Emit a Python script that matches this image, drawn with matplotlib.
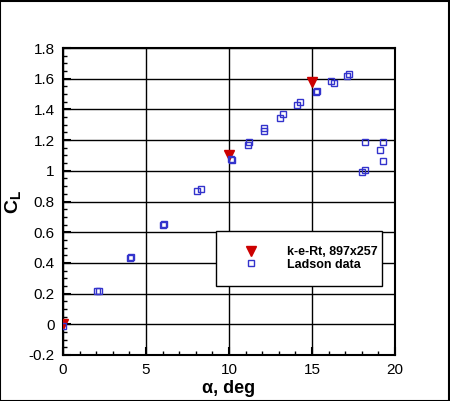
import matplotlib
matplotlib.use('Agg')
import matplotlib.pyplot as plt
from matplotlib.patches import Rectangle
from matplotlib.ticker import MultipleLocator

plt.rcParams['font.family'] = ['Liberation Sans', 'DejaVu Sans']
plt.rcParams['mathtext.fontset'] = 'custom'
plt.rcParams['mathtext.rm'] = 'Liberation Sans'
plt.rcParams['mathtext.bf'] = 'Liberation Sans:bold'
plt.rcParams['mathtext.it'] = 'Liberation Sans:italic'

# Ladson experimental data
ladson_alpha = [0.02, 2.06, 2.18, 4.05, 4.10, 6.04, 6.08, 8.08, 8.32,
                10.12, 10.18, 11.17, 11.23, 12.11, 12.11, 13.10, 13.28,
                14.12, 14.28, 15.26, 15.30, 16.12, 16.30, 17.13, 17.23,
                18.03, 18.19, 18.19, 19.09, 19.27, 19.27]
ladson_cl = [-0.01, 0.214, 0.214, 0.43, 0.44, 0.65, 0.655, 0.871, 0.884,
             1.08, 1.07, 1.17, 1.185, 1.26, 1.28, 1.343, 1.371,
             1.43, 1.45, 1.512, 1.522, 1.583, 1.57, 1.62, 1.63,
             0.992, 1.005, 1.187, 1.137, 1.187, 1.066]

# k-e-Rt computation, 897x257 grid
kert_alpha = [0.0, 10.0, 15.0]
kert_cl = [0.0, 1.105, 1.577]

x_ticks = [0, 5, 10, 15, 20]
y_ticks = [-0.2, 0, 0.2, 0.4, 0.6, 0.8, 1.0, 1.2, 1.4, 1.6, 1.8]
y_tick_labels = ['-0.2', '0', '0.2', '0.4', '0.6', '0.8', '1', '1.2', '1.4', '1.6', '1.8']

fig = plt.figure(figsize=(4.5, 4.01), dpi=100)
ax = fig.add_axes([63 / 450, 1 - 355 / 401, 332 / 450, 307 / 401])

ax.plot(kert_alpha, kert_cl, linestyle='none', marker='v', markersize=7,
        color='#cc0000', markeredgecolor='#cc0000', label='k-e-Rt, 897x257', zorder=3)
ax.plot(ladson_alpha, ladson_cl, linestyle='none', marker='s', markersize=4.2,
        markerfacecolor='none', markeredgecolor='#3333cc', markeredgewidth=1.0,
        label='Ladson data', zorder=4)

ax.set_xlim(0, 20)
ax.set_ylim(-0.2, 1.8)
ax.set_xticks(x_ticks)
ax.set_xticklabels([str(t) for t in x_ticks])
ax.set_yticks(y_ticks)
ax.set_yticklabels(y_tick_labels)
ax.xaxis.set_minor_locator(MultipleLocator(1))
ax.yaxis.set_minor_locator(MultipleLocator(0.05))
ax.tick_params(which='both', direction='in', top=False, right=False,
               labelsize=11, pad=6, color='black')
ax.tick_params(which='major', length=6, width=1.5)
ax.tick_params(which='minor', length=3, width=1)
ax.grid(True, which='major', color='black', linewidth=1.0)
ax.set_axisbelow(True)
for sp in ax.spines.values():
    sp.set_linewidth(1.5)

ax.set_xlabel('α, deg', fontsize=13, fontweight='bold', labelpad=2)
ax.set_ylabel(r'$\mathbf{C}_\mathbf{L}$', fontsize=14, labelpad=4)

leg = ax.legend(loc='lower left', bbox_to_anchor=(0.46, 0.226, 0.50, 0.145),
                mode='expand', borderaxespad=0, fancybox=False, framealpha=1,
                edgecolor='black', prop={'weight': 'bold', 'size': 9},
                handlelength=3.2, handletextpad=1.3, labelspacing=0.05,
                borderpad=1.2, markerscale=1.0)
leg.get_frame().set_linewidth(1.0)

fig.patches.append(Rectangle((0.001, 0.001), 0.997, 0.997, transform=fig.transFigure,
                             fill=False, edgecolor='black', linewidth=1.5))

fig.savefig('out.png', dpi=100)
